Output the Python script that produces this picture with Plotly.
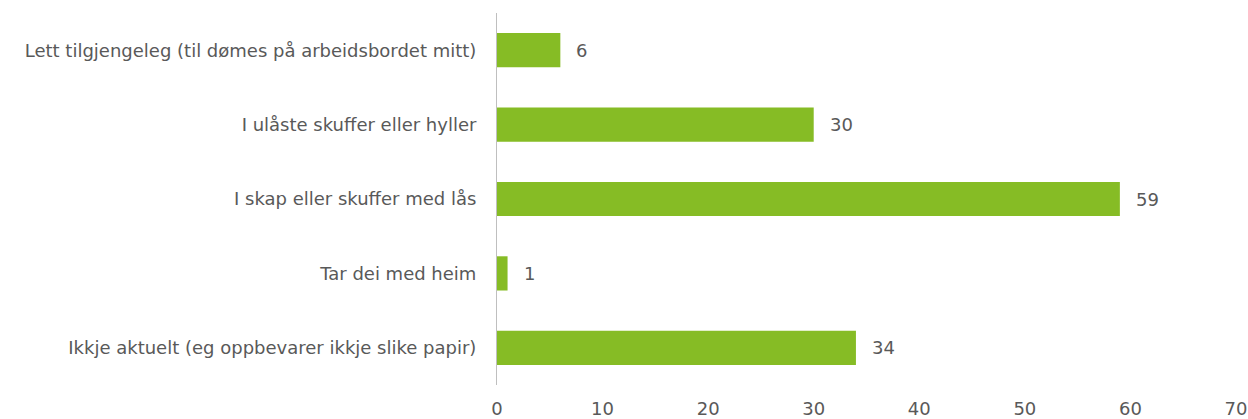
import plotly.graph_objects as go

categories = [
    "Lett tilgjengeleg (til dømes på arbeidsbordet mitt)",
    "I ulåste skuffer eller hyller",
    "I skap eller skuffer med lås",
    "Tar dei med heim",
    "Ikkje aktuelt (eg oppbevarer ikkje slike papir)",
]
values = [6, 30, 59, 1, 34]
x_ticks = [0, 10, 20, 30, 40, 50, 60, 70]

bar_color = "#86BC25"
text_color = "#595959"
font_family = "DejaVu Sans, Verdana, sans-serif"
font_size = 18

fig = go.Figure(
    go.Bar(
        x=values,
        y=categories,
        orientation="h",
        marker=dict(color=bar_color, line=dict(width=0)),
        width=0.46,
        hoverinfo="x+y",
    )
)

# value labels to the right of each bar
for cat, val in zip(categories, values):
    fig.add_annotation(
        x=val, y=cat, text=str(val), showarrow=False,
        xanchor="left", xshift=14,
        font=dict(family=font_family, size=font_size, color=text_color),
    )

fig.update_layout(
    width=1248, height=419,
    margin=dict(l=497, r=12, t=13, b=34),
    paper_bgcolor="white", plot_bgcolor="white",
    showlegend=False,
    font=dict(family=font_family, size=font_size, color=text_color),
    bargap=0.54,
)
fig.update_xaxes(
    range=[0, 70], tickvals=x_ticks, showgrid=False, zeroline=False,
    showline=False, ticks="", ticklabelstandoff=11, automargin=False,
    tickfont=dict(family=font_family, size=font_size, color=text_color),
)
fig.update_yaxes(
    categoryorder="array", categoryarray=categories[::-1],
    showgrid=False, zeroline=False, showline=True, linecolor="#BFBFBF",
    linewidth=1, ticks="", ticklabelstandoff=16, automargin=False,
    tickfont=dict(family=font_family, size=font_size, color=text_color),
)

fig.write_html("out.html")
